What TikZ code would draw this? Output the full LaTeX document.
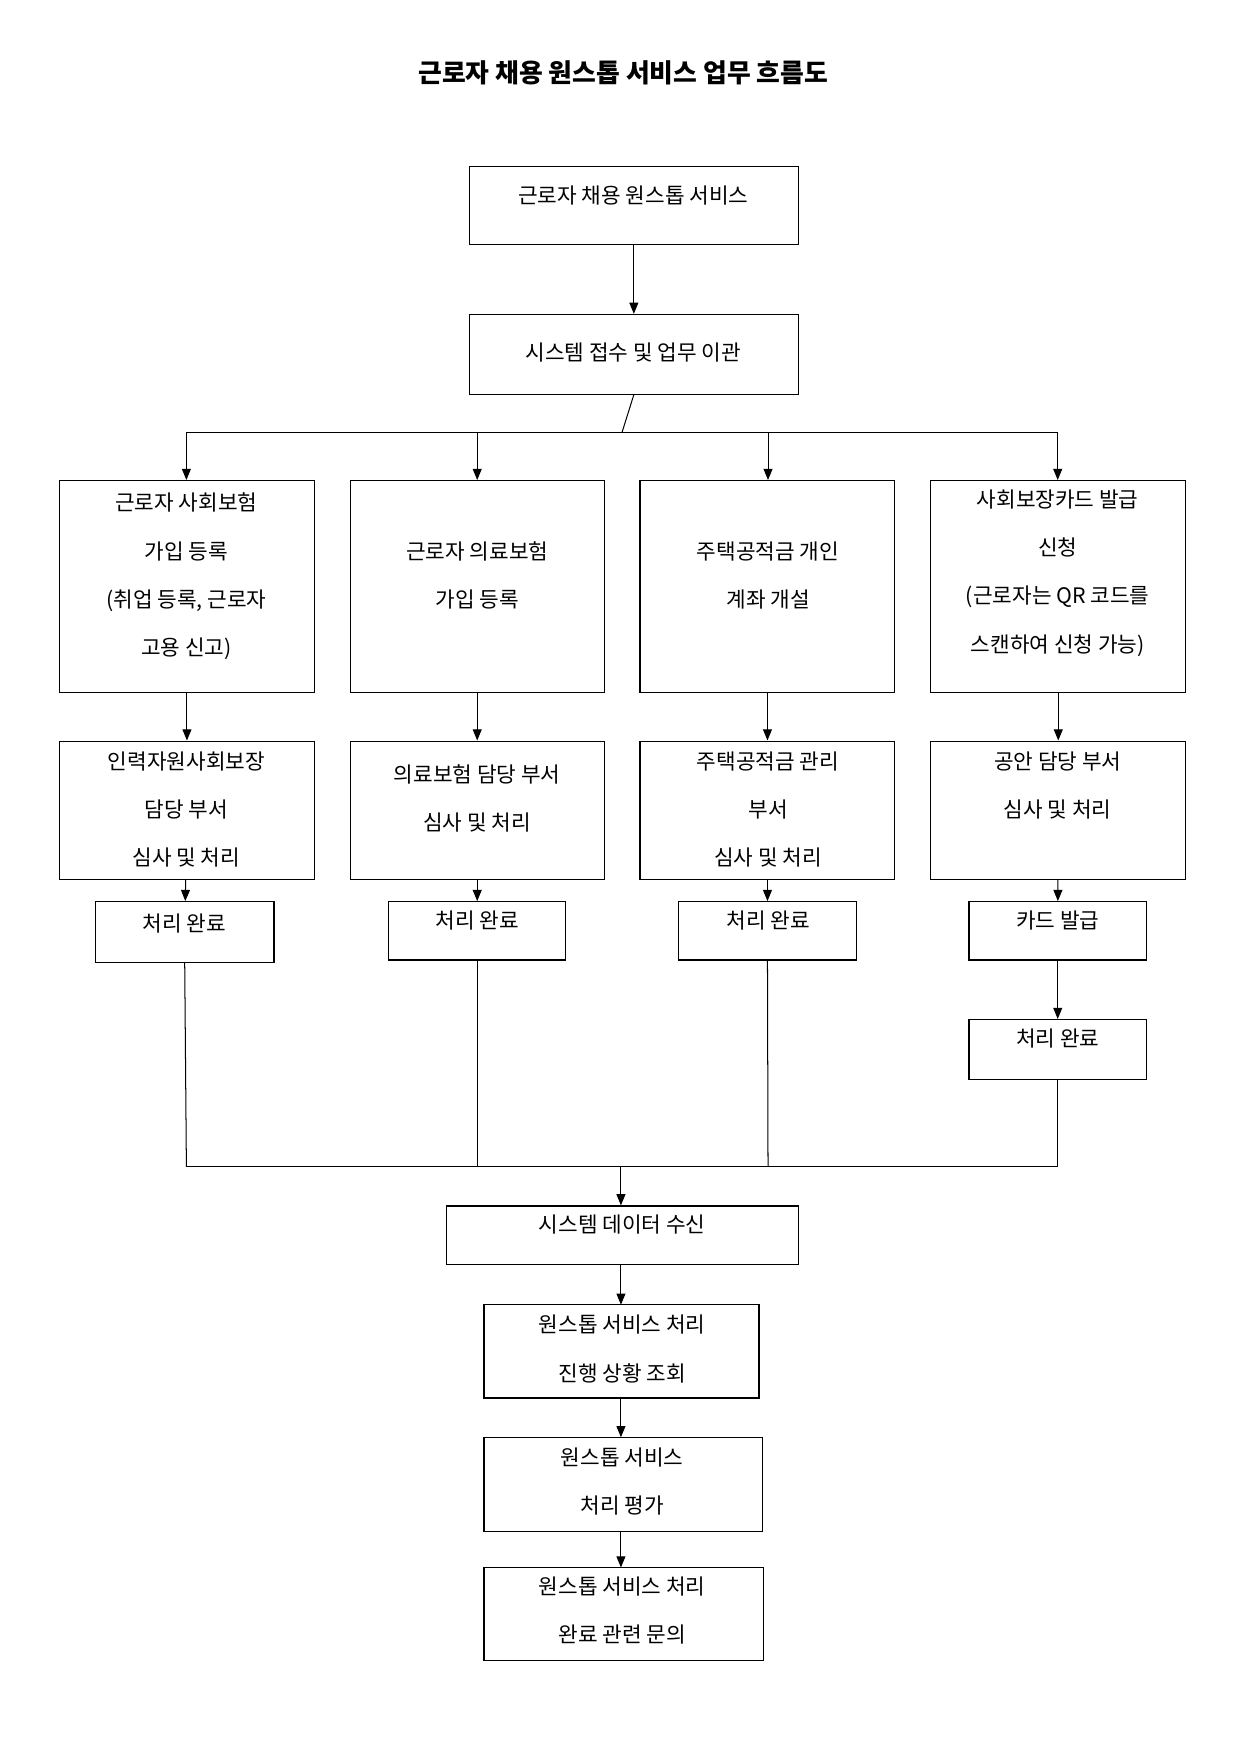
\documentclass[tikz,border=0pt]{standalone}
\usepackage{fontspec}
\setmainfont{Noto Sans CJK KR}
\usetikzlibrary{arrows.meta}
\begin{document}
\begin{tikzpicture}[x=1pt,y=-1pt,
  box/.style={draw,line width=1pt,inner sep=0,rectangle},
  txt/.style={inner sep=0,anchor=north,align=center,font=\fontsize{19}{43}\selectfont},
  arr/.style={line width=0.9pt,-{Triangle[length=10pt,width=8pt]}},
  ln/.style={line width=0.9pt}]
\useasboundingbox (0,0) rectangle (1105,1563);
\newcommand\bx[5]{\node[box,minimum width={#4-#2},minimum height={#5-#3}] (#1) at ({(#2+#4)/2},{(#3+#5)/2}) {};}
\node[inner sep=0,font=\bfseries\fontsize{23}{28}\selectfont] (title) at (555,65) {근로자 채용 원스톱 서비스 업무 흐름도};
\bx{a}{418}{148}{711}{218}
\node[txt] (ta) at (564,165) {근로자 채용 원스톱 서비스};
\bx{b}{418}{280}{711}{351}
\node[txt] (tb) at (564,305) {시스템 접수 및 업무 이관};
\draw[arr] (a) -- (b);
\coordinate (j) at (554,385);
\draw[ln] (b.south) -- (j);
\draw[ln] (166,385) -- (942,385);
% row 1
\bx{c1}{53}{428}{280}{617}
\bx{c2}{312}{428}{538}{617}
\bx{c3}{570}{428}{797}{617}
\bx{c4}{829}{428}{1056}{617}
\foreach \n/\x in {c1/166,c2/425,c3/684,c4/942}{
  \coordinate (t\n) at (\x,385);
  \draw[arr] (t\n) -- (\n.north -| t\n);
}
\node[txt] (tc1) at (166,439) {근로자 사회보험\\가입 등록\\(취업 등록, 근로자\\고용 신고)};
\node[txt] (tc2) at (425,482) {근로자 의료보험\\가입 등록};
\node[txt] (tc3) at (684,482) {주택공적금 개인\\계좌 개설};
\node[txt] (tc4) at (942,436) {사회보장카드 발급\\신청\\(근로자는 QR 코드를\\스캔하여 신청 가능)};
% row 2
\bx{d1}{53}{660}{280}{783}
\bx{d2}{312}{660}{538}{783}
\bx{d3}{570}{660}{797}{783}
\bx{d4}{829}{660}{1056}{783}
\foreach \i in {1,2,3,4}{\draw[arr] (c\i) -- (d\i);}
\node[txt] (td1) at (166,669) {인력자원사회보장\\담당 부서\\심사 및 처리};
\node[txt] (td2) at (425,681) {의료보험 담당 부서\\심사 및 처리};
\node[txt] (td3) at (684,669) {주택공적금 관리\\부서\\심사 및 처리};
\node[txt] (td4) at (942,669) {공안 담당 부서\\심사 및 처리};
% row 3
\bx{e1}{85}{803}{244}{857}
\bx{e2}{346}{803}{504}{855}
\bx{e3}{604}{803}{763}{855}
\bx{e4}{863}{803}{1021}{855}
\bx{f4}{863}{908}{1021}{961}
\foreach \i in {1,2,3,4}{\draw[arr] (d\i) -- (e\i);}
\draw[arr] (e4) -- (f4);
\node[txt] (te1) at (164,814) {처리 완료};
\node[txt] (te2) at (425,811) {처리 완료};
\node[txt] (te3) at (684,811) {처리 완료};
\node[txt] (te4) at (942,811) {카드 발급};
\node[txt] (tf4) at (942,916) {처리 완료};
% merge
\coordinate (m1) at (166,1039);
\coordinate (m2) at (425,1039);
\coordinate (m3) at (684,1039);
\coordinate (m4) at (942,1039);
\coordinate (mc) at (553,1039);
\draw[ln] (e1.south) -- (m1);
\draw[ln] (e2.south) -- (m2);
\draw[ln] (e3.south) -- (m3);
\draw[ln] (f4.south) -- (m4);
\draw[ln] (m1) -- (m4);
\bx{g}{398}{1074}{711}{1126}
\draw[arr] (mc) -- (mc |- g.north);
\node[txt] (tg) at (554,1082) {시스템 데이터 수신};
\bx{h}{431}{1162}{676}{1245}
\node[txt] (th) at (554,1171) {원스톱 서비스 처리\\진행 상황 조회};
\bx{k}{431}{1280}{679}{1364}
\node[txt] (tk) at (554,1289) {원스톱 서비스\\처리 평가};
\bx{l}{431}{1396}{680}{1479}
\node[txt] (tl) at (554,1404) {원스톱 서비스 처리\\완료 관련 문의};
\draw[arr] (553,1126) -- (553,1162);
\draw[arr] (553,1245) -- (553,1280);
\draw[arr] (553,1364) -- (553,1396);
\end{tikzpicture}
\end{document}
